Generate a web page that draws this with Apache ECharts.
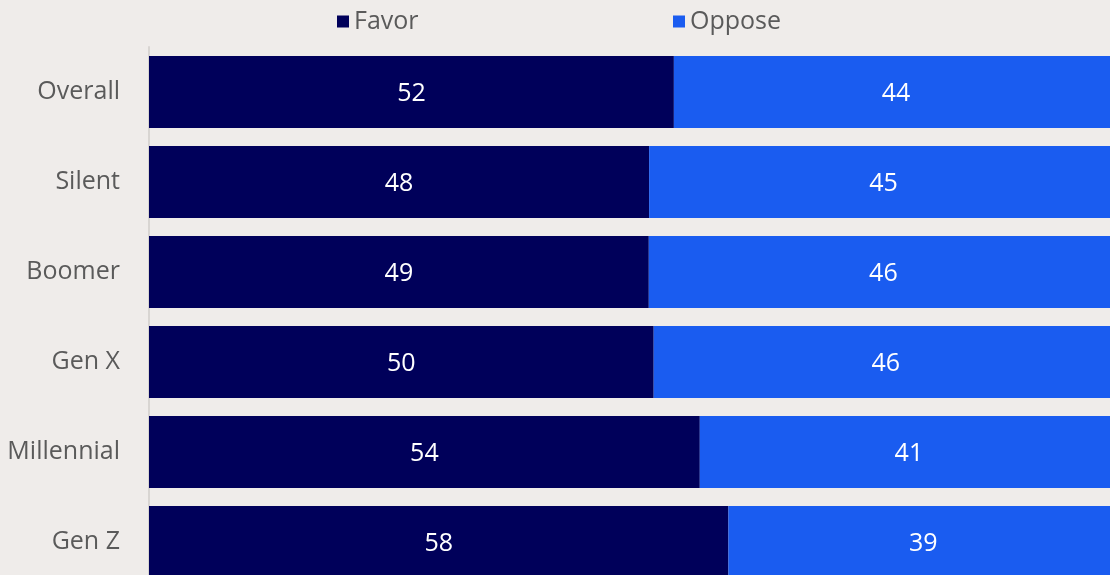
<!DOCTYPE html>
<html>
<head>
<meta charset="utf-8">
<script src="https://cdn.jsdelivr.net/npm/echarts@6/dist/echarts.min.js"></script>
<style>
  html, body { margin: 0; padding: 0; background: #efecea; overflow: hidden; }
  #chart { width: 1110px; height: 575px; }
</style>
</head>
<body>
<div id="chart"></div>
<script>
// Generations and their favor/oppose answers (percent)
const categories = ['Overall', 'Silent', 'Boomer', 'Gen X', 'Millennial', 'Gen Z'];
const favor = [52, 48, 49, 50, 54, 58];
const oppose = [44, 45, 46, 46, 41, 39];

const FONT = '"Open Sans", "DejaVu Sans", sans-serif';
const NAVY = '#00005a';
const BLUE = '#1a5cf0';
const TEXT = '#5a5a5a';

// Each row is scaled to the share of people answering either way
const shareOf = (arr) => arr.map((v, i) => ({
  value: v / (favor[i] + oppose[i]) * 100,
  raw: v
}));

const chart = echarts.init(document.getElementById('chart'));

const labelStyle = {
  show: true,
  position: 'inside',
  offset: [0, 2],
  color: '#ffffff',
  fontFamily: FONT,
  fontSize: 25,
  formatter: (p) => String(p.data.raw)
};

const legendText = { color: TEXT, fontFamily: FONT, fontSize: 25 };

chart.setOption({
  backgroundColor: '#efecea',
  animation: false,
  legend: [
    {
      data: ['Favor'],
      left: 332, top: 4,
      icon: 'rect', itemWidth: 12, itemHeight: 12,
      textStyle: legendText
    },
    {
      data: ['Oppose'],
      left: 668, top: 4,
      icon: 'rect', itemWidth: 12, itemHeight: 12,
      textStyle: legendText
    }
  ],
  // the plot runs slightly past the right and bottom edges of the page
  grid: {
    left: 149, top: 47, width: 969, height: 540,
    containLabel: false, outerBoundsMode: 'none'
  },
  xAxis: {
    type: 'value', min: 0, max: 100, show: false
  },
  yAxis: {
    type: 'category',
    data: categories,
    inverse: true,
    axisLine: { show: true, lineStyle: { color: '#d8d5d2', width: 2 } },
    axisTick: { show: false },
    axisLabel: {
      margin: 29, padding: [4, 0, 0, 0],
      color: TEXT, fontFamily: FONT, fontSize: 25
    }
  },
  series: [
    {
      name: 'Favor', type: 'bar', stack: 'total',
      barCategoryGap: '20%',
      itemStyle: { color: NAVY },
      label: labelStyle,
      data: shareOf(favor)
    },
    {
      name: 'Oppose', type: 'bar', stack: 'total',
      barCategoryGap: '20%',
      itemStyle: { color: BLUE },
      label: labelStyle,
      data: shareOf(oppose)
    }
  ]
});
</script>
</body>
</html>
